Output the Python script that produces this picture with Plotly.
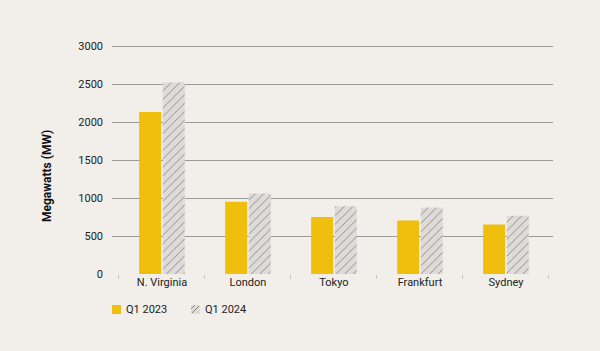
import plotly.graph_objects as go

categories = ["N. Virginia", "London", "Tokyo", "Frankfurt", "Sydney"]
q1_2023 = [2130, 950, 750, 705, 650]
q1_2024 = [2520, 1060, 890, 875, 765]
y_ticks = [0, 500, 1000, 1500, 2000, 2500, 3000]
series_names = ["Q1 2023", "Q1 2024"]

BG = "#f2efeb"
YELLOW = "#f0be0c"
HATCH_BG = "#dedbd8"
HATCH_FG = "#858381"
FONT = "Roboto"

L, R, T, B = 112, 47, 40, 77
W, H = 600, 351
PW, PH = W - L - R, H - T - B


def px_x(px):
    return (px - L) / PW


def px_y(py):
    return (H - B - py) / PH


fig = go.Figure()
fig.add_trace(go.Bar(
    x=categories, y=q1_2023, name=series_names[0],
    marker=dict(color=YELLOW, line=dict(width=0)),
))
fig.add_trace(go.Bar(
    x=categories, y=q1_2024, name=series_names[1],
    marker=dict(color=HATCH_BG, line=dict(width=0),
                pattern=dict(shape="/", fgcolor=HATCH_FG, bgcolor=HATCH_BG,
                             size=6, solidity=0.14, fillmode="replace")),
))

shapes = [
    dict(type="rect", xref="paper", yref="paper",
         x0=px_x(112), x1=px_x(121), y0=px_y(314), y1=px_y(305),
         fillcolor=YELLOW, line=dict(width=0)),
    dict(type="rect", xref="paper", yref="paper",
         x0=px_x(191), x1=px_x(200), y0=px_y(314), y1=px_y(305),
         fillcolor=HATCH_BG, line=dict(width=0)),
    dict(type="line", xref="paper", yref="paper",
         x0=px_x(192), x1=px_x(199), y0=px_y(313), y1=px_y(306),
         line=dict(color=HATCH_FG, width=1)),
    dict(type="line", xref="paper", yref="paper",
         x0=px_x(191), x1=px_x(195), y0=px_y(309), y1=px_y(305),
         line=dict(color=HATCH_FG, width=1)),
]

annotations = [
    dict(text="<b>Megawatts (MW)</b>", x=px_x(38), y=px_y(176),
         xref="paper", yref="paper", showarrow=False,
         textangle=-90, font=dict(size=12, color="#111111")),
    dict(text=series_names[0], x=px_x(124), y=px_y(309.5), xref="paper", yref="paper",
         xanchor="left", yanchor="middle", showarrow=False,
         font=dict(size=11, color="#222222")),
    dict(text=series_names[1], x=px_x(203), y=px_y(309.5), xref="paper", yref="paper",
         xanchor="left", yanchor="middle", showarrow=False,
         font=dict(size=11, color="#222222")),
]

fig.update_layout(
    width=W, height=H,
    paper_bgcolor=BG, plot_bgcolor=BG,
    margin=dict(l=L, r=R, t=T, b=B),
    barmode="group", bargap=0.45, bargroupgap=0.07,
    font=dict(family=FONT, size=11, color="#222222"),
    showlegend=False,
    xaxis=dict(range=[-0.581, 4.547], showgrid=False, zeroline=False,
               showline=False, ticks="outside", tickson="boundaries",
               ticklen=4, tickcolor="#c8c6c3", tickwidth=1,
               tickfont=dict(size=11, color="#222222")),
    yaxis=dict(range=[0, 3000 * PH / 228], tickvals=y_ticks, showgrid=True,
               gridcolor="#9c9a97", gridwidth=1, zeroline=False, showline=False,
               ticks="", ticklabelstandoff=8,
               tickfont=dict(size=11, color="#222222")),
    shapes=shapes,
    annotations=annotations,
)

fig.write_html("out.html")
